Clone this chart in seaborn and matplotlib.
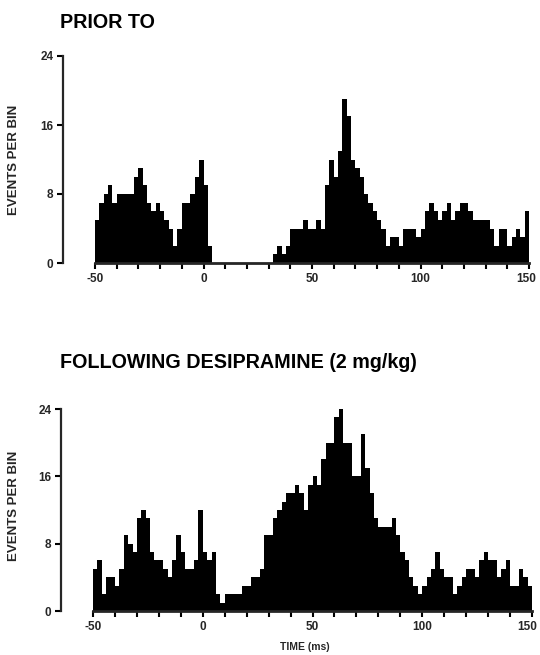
import numpy as np
import pandas as pd
import seaborn as sns
import matplotlib.pyplot as plt
from matplotlib.ticker import MultipleLocator

# Peristimulus time histogram, 2 ms bins from -50 to 150 ms
bin_width = 2
time_start = -50
time_end = 150

prior_counts = [
    5, 7, 8, 9, 7, 8, 8, 8, 8, 10, 11, 9, 7, 6, 7, 6, 5, 4, 2, 4,
    7, 7, 8, 10, 12, 9, 2, 0, 0, 0, 0, 0, 0, 0, 0, 0, 0, 0, 0, 0,
    0, 1, 2, 1, 2, 4, 4, 4, 5, 4, 4, 5, 4, 9, 12, 10, 13, 19, 17, 12,
    11, 10, 8, 7, 6, 5, 4, 2, 3, 3, 2, 4, 4, 4, 3, 4, 6, 7, 6, 5,
    6, 7, 5, 6, 7, 7, 6, 5, 5, 5, 5, 4, 2, 4, 4, 2, 3, 4, 3, 6,
]

desipramine_counts = [
    5, 6, 2, 4, 4, 3, 5, 9, 8, 7, 11, 12, 11, 7, 6, 6, 5, 4, 6, 9,
    7, 5, 5, 6, 12, 7, 6, 7, 2, 1, 2, 2, 2, 2, 3, 3, 4, 4, 5, 9,
    9, 11, 12, 13, 14, 14, 15, 14, 12, 15, 16, 15, 18, 20, 20, 23, 24, 20, 20, 16,
    16, 21, 17, 14, 11, 10, 10, 10, 11, 9, 7, 6, 4, 3, 2, 3, 4, 5, 7, 5,
    4, 4, 2, 3, 4, 5, 5, 4, 6, 7, 6, 6, 4, 5, 6, 3, 3, 5, 4, 3,
]

y_ticks = [0, 8, 16, 24]
x_ticks = [-50, 0, 50, 100, 150]
titles = ["PRIOR TO", "FOLLOWING DESIPRAMINE (2 mg/kg)"]
y_label = "EVENTS PER BIN"
x_label = "TIME (ms)"

centers = np.arange(time_start, time_end, bin_width) + bin_width / 2

sns.set_theme(style="ticks")
plt.rcParams["font.family"] = ["Liberation Sans", "DejaVu Sans"]

W, H = 540, 655
fig = plt.figure(figsize=(W / 100, H / 100), dpi=100)

# (counts, axes rect, title y, y-label coords, shift of last x label in points)
panels = [
    (prior_counts, [95 / W, 1 - 263 / H, 434 / W, 207 / H], 22, (-0.173, 0.50), -1.8),
    (desipramine_counts, [93 / W, 1 - 611 / H, 439 / W, 202 / H], 362, (-0.166, 0.52), -3.6),
]

tick_size = 8.5

for k, (counts, rect, title_y, ylab_xy, shift) in enumerate(panels):
    ax = fig.add_axes(rect)
    df = pd.DataFrame({"time": centers, "count": np.asarray(counts, dtype=float)})
    sns.histplot(data=df, x="time", weights="count", binwidth=bin_width,
                 binrange=(time_start, time_end), stat="count",
                 element="step", fill=True, color="black", alpha=1,
                 linewidth=0, ax=ax)
    sns.despine(ax=ax, offset={"left": 23})
    ax.spines["left"].set_linewidth(1.6)
    ax.spines["bottom"].set_linewidth(2)
    ax.set_xlim(time_start, time_end)
    ax.set_ylim(0, 24)
    ax.spines["left"].set_bounds(0, 24)
    ax.xaxis.set_minor_locator(MultipleLocator(10))
    ax.tick_params(axis="both", which="both", direction="out", length=4,
                   width=1.5, color="black", pad=3, labelsize=tick_size)
    ax.set_yticks(y_ticks)
    ax.set_yticklabels([str(t) for t in y_ticks])
    ax.set_xticks(x_ticks)
    # the right-most label sits at the figure edge, so it is placed separately
    ax.set_xticklabels([str(t) for t in x_ticks[:-1]] + [""])
    for lab in ax.get_xticklabels() + ax.get_yticklabels():
        lab.set_fontweight("bold")
    ax.annotate(str(x_ticks[-1]), xy=(x_ticks[-1], 0),
                xycoords=("data", "axes fraction"),
                xytext=(shift, -7.0), textcoords="offset points",
                ha="center", va="top", fontsize=tick_size, fontweight="bold")
    ax.set_ylabel(y_label, fontsize=9.5, fontweight="bold")
    ax.yaxis.set_label_coords(*ylab_xy)
    ax.set_xlabel("")
    ax.grid(False)
    fig.text(60 / W, 1 - title_y / H, titles[k], ha="left", va="center",
             fontsize=14.2, fontweight="bold", color="black")

fig.text(305 / W, 1 - 647 / H, x_label, ha="center", va="center",
         fontsize=7.5, fontweight="bold")

fig.savefig("out.png", dpi=100, facecolor="white")
